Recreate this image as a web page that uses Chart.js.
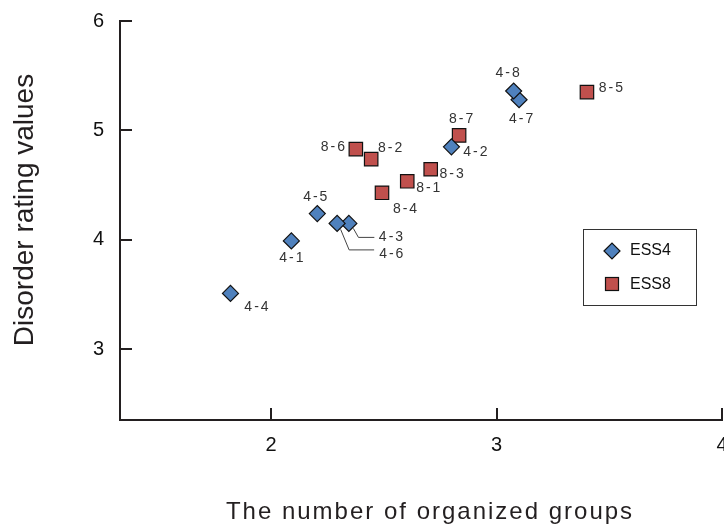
<!DOCTYPE html>
<html>
<head>
<meta charset="utf-8">
<script src="https://cdn.jsdelivr.net/npm/chart.js@4.4.1/dist/chart.umd.min.js"></script>
<style>
    html, body { margin: 0; padding: 0; background: #fff; overflow: hidden; width: 724px; height: 527px; }
    canvas { display: block; }
</style>
</head>
<body>
<!-- canvas is a bit wider than the window so the "4" tick label is cut at the edge, as in the original -->
<canvas id="scatterChart" width="744" height="527"></canvas>
<script>
// Data
const ess4Names = ['4-1', '4-2', '4-3', '4-4', '4-5', '4-6', '4-7', '4-8'];
const ess4X = [2.09, 2.80, 2.345, 1.82, 2.205, 2.293, 3.10, 3.076];
const ess4Y = [3.99, 4.85, 4.15, 3.51, 4.24, 4.15, 5.28, 5.36];

const ess8Names = ['8-1', '8-2', '8-3', '8-4', '8-5', '8-6', '8-7'];
const ess8X = [2.604, 2.444, 2.708, 2.492, 3.401, 2.376, 2.834];
const ess8Y = [4.535, 4.737, 4.645, 4.43, 5.35, 4.829, 4.954];

const xTicks = [2, 3, 4];
const yTicks = [3, 4, 5, 6];

const xTitle = 'The number of organized groups';
const yTitle = 'Disorder rating values';

// label placement in px relative to the point (styling only)
const labelPos = {
    '4-1': [0, 17], '4-2': [24, 5], '4-4': [26, 14], '4-5': [-2, -16],
    '4-7': [2, 19], '4-8': [-6, -18],
    '8-1': [21, 7], '8-2': [19, -11], '8-3': [21, 5], '8-4': [23, 16],
    '8-5': [24, -4], '8-6': [-23, -2], '8-7': [2, -16]
};
// labels with leader lines
const leaderPos = {
    '4-3': { line: [[4.5, 5], [9.6, 14], [25.5, 14]], text: [30, 14] },
    '4-6': { line: [[3.5, 6], [12, 26.5], [37, 26.5]], text: [42, 31] }
};

const FONT = "'Liberation Sans', Arial, sans-serif";
const BLUE = '#4f81bd';
const RED = '#c0504d';
const AXIS = '#231f20';

function toPoints(xs, ys) {
    return xs.map((x, i) => ({ x: x, y: ys[i] }));
}

// inward tick marks, point labels, legend box and axis titles
const decorPlugin = {
    id: 'decor',
    afterDraw(chart) {
        const ctx = chart.ctx;
        const area = chart.chartArea;
        const xs = chart.scales.x;
        const ys = chart.scales.y;

        ctx.save();
        ctx.strokeStyle = AXIS;
        ctx.lineWidth = 2;
        yTicks.forEach(v => {
            const py = Math.round(ys.getPixelForValue(v));
            ctx.beginPath();
            ctx.moveTo(area.left, py);
            ctx.lineTo(area.left + 12, py);
            ctx.stroke();
        });
        xTicks.forEach(v => {
            const px = Math.round(xs.getPixelForValue(v));
            ctx.beginPath();
            ctx.moveTo(px, area.bottom);
            ctx.lineTo(px, area.bottom - 12);
            ctx.stroke();
        });

        // point labels
        ctx.font = '14px ' + FONT;
        ctx.letterSpacing = '2px';
        ctx.fillStyle = '#333';
        ctx.textBaseline = 'middle';
        const names = [ess4Names, ess8Names];
        names.forEach((list, d) => {
            const meta = chart.getDatasetMeta(d);
            list.forEach((name, i) => {
                const el = meta.data[i];
                if (labelPos[name]) {
                    const o = labelPos[name];
                    ctx.textAlign = 'center';
                    ctx.fillText(name, el.x + o[0] + 1, el.y + o[1]);
                } else if (leaderPos[name]) {
                    const o = leaderPos[name];
                    ctx.strokeStyle = '#444';
                    ctx.lineWidth = 1;
                    ctx.beginPath();
                    o.line.forEach((p, k) => {
                        if (k === 0) ctx.moveTo(el.x + p[0], el.y + p[1]);
                        else ctx.lineTo(el.x + p[0], el.y + p[1]);
                    });
                    ctx.stroke();
                    ctx.textAlign = 'left';
                    ctx.fillText(name, el.x + o.text[0], el.y + o.text[1]);
                }
            });
        });
        ctx.letterSpacing = '0px';

        // legend
        ctx.strokeStyle = '#333';
        ctx.lineWidth = 1;
        ctx.strokeRect(583.5, 229.5, 113, 76);
        ctx.fillStyle = BLUE;
        ctx.strokeStyle = '#111';
        ctx.lineWidth = 1.2;
        ctx.beginPath();
        ctx.moveTo(612 - 8, 251);
        ctx.lineTo(612, 251 - 8);
        ctx.lineTo(612 + 8, 251);
        ctx.lineTo(612, 251 + 8);
        ctx.closePath();
        ctx.fill();
        ctx.stroke();
        ctx.fillStyle = RED;
        ctx.fillRect(605.5, 277.5, 13, 13);
        ctx.strokeRect(605.5, 277.5, 13, 13);
        ctx.fillStyle = '#111';
        ctx.font = '16px ' + FONT;
        ctx.textAlign = 'left';
        ctx.textBaseline = 'middle';
        ctx.fillText(chart.data.datasets[0].label, 630, 251);
        ctx.fillText(chart.data.datasets[1].label, 630, 285);

        // axis titles
        ctx.fillStyle = AXIS;
        ctx.textBaseline = 'alphabetic';
        ctx.textAlign = 'center';
        ctx.font = '24px ' + FONT;
        ctx.letterSpacing = '2px';
        ctx.fillText(xTitle, 430, 519);
        ctx.letterSpacing = '0px';
        ctx.font = '28px ' + FONT;
        ctx.translate(33, 210);
        ctx.rotate(-Math.PI / 2);
        ctx.fillText(yTitle, 0, 0);
        ctx.restore();
    }
};

new Chart(document.getElementById('scatterChart').getContext('2d'), {
    type: 'scatter',
    data: {
        datasets: [
            {
                label: 'ESS4',
                data: toPoints(ess4X, ess4Y),
                pointStyle: 'rectRot',
                pointRadius: 8,
                backgroundColor: BLUE,
                borderColor: '#111',
                borderWidth: 1.2
            },
            {
                label: 'ESS8',
                data: toPoints(ess8X, ess8Y),
                pointStyle: 'rect',
                pointRadius: 9.5,
                backgroundColor: RED,
                borderColor: '#111',
                borderWidth: 1.2
            }
        ]
    },
    options: {
        responsive: false,
        animation: false,
        layout: { padding: { top: 21, right: 22, left: 0, bottom: 0 } },
        plugins: {
            legend: { display: false },
            tooltip: { enabled: false }
        },
        scales: {
            x: {
                type: 'linear',
                min: 1.33,
                max: 4,
                grid: { display: false, drawTicks: false },
                border: { display: true, color: AXIS, width: 2 },
                afterBuildTicks: s => { s.ticks = xTicks.map(v => ({ value: v })); },
                afterFit: s => { s.height = 107; },
                ticks: {
                    padding: 13,
                    color: '#111',
                    font: { family: FONT, size: 20 }
                }
            },
            y: {
                type: 'linear',
                min: 2.353,
                max: 6,
                grid: { display: false, drawTicks: false },
                border: { display: true, color: AXIS, width: 2 },
                afterBuildTicks: s => { s.ticks = yTicks.map(v => ({ value: v })); },
                afterFit: s => { s.width = 120; s.paddingTop = 0; s.paddingBottom = 0; },
                ticks: {
                    padding: 16,
                    color: '#111',
                    font: { family: FONT, size: 20 }
                }
            }
        }
    },
    plugins: [decorPlugin]
});
</script>
</body>
</html>
